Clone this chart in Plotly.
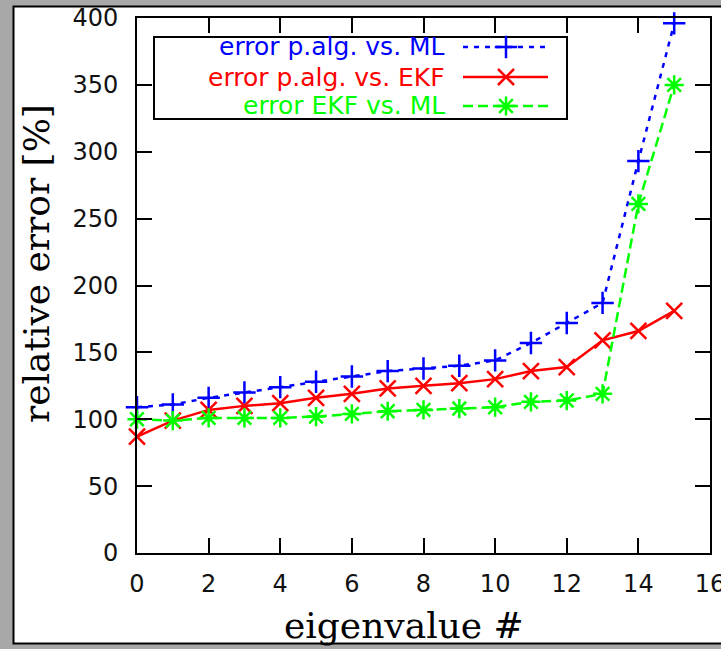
import plotly.graph_objects as go

# ---- data ----
eigen_idx = list(range(16))
err_palg_ml = [109, 111, 116, 120, 124, 128, 132, 136, 138, 140, 144, 157, 172, 187, 293, 396]
err_palg_ekf = [87, 99, 107, 110, 112, 116, 119, 123, 125, 127, 130, 136, 139, 159, 166, 181]
err_ekf_ml = [100, 99, 101, 101, 101, 102, 104, 106, 107, 108, 109, 113, 114, 119, 261, 350]
series_names = ["error p.alg. vs. ML", "error p.alg. vs. EKF", "error EKF vs. ML"]
x_ticks = [0, 2, 4, 6, 8, 10, 12, 14, 16]
y_ticks = [0, 50, 100, 150, 200, 250, 300, 350, 400]

colors = ["#0000ff", "#ff0000", "#00ff00"]
dashes = ["5px,6px", "solid", "10px,5px"]
symbols = ["cross-thin-open", "x-thin-open", "asterisk-open"]
series = [err_palg_ml, err_palg_ekf, err_ekf_ml]

W, H = 721, 649
L, R, T, B = 137, 11, 18, 96
pw = W - L - R
ph = H - T - B

def px2x(px):
    return (px - L) / pw

def px2y(py):
    return (H - B - py) / ph

fig = go.Figure()
for vals, c, d, s, n in zip(series, colors, dashes, symbols, series_names):
    fig.add_trace(go.Scatter(
        x=eigen_idx, y=vals, mode="lines+markers", name=n,
        line=dict(color=c, width=2.5, dash=d),
        marker=dict(symbol=s, size=16, color=c, line=dict(color=c, width=2.5)),
        cliponaxis=False, showlegend=False))

# legend samples (overlay axes in plot-fraction coordinates)
row_y = [47, 77, 106]
for c, d, s, n, ry in zip(colors, dashes, symbols, series_names, row_y):
    fig.add_trace(go.Scatter(
        x=[px2x(463), px2x(548)], y=[px2y(ry), px2y(ry)], mode="lines",
        line=dict(color=c, width=2.5, dash=d), xaxis="x2", yaxis="y2",
        showlegend=False, hoverinfo="skip"))
    fig.add_trace(go.Scatter(
        x=[px2x(506)], y=[px2y(ry)], mode="markers",
        marker=dict(symbol=s, size=16, color=c, line=dict(color=c, width=2.5)),
        xaxis="x2", yaxis="y2", showlegend=False, hoverinfo="skip"))
    fig.add_annotation(text=n, x=px2x(447), y=px2y(ry), xref="paper", yref="paper",
                       xanchor="right", yanchor="middle", showarrow=False,
                       font=dict(family="DejaVu Sans", size=25, color=c))

# panel background and legend box
fig.add_shape(type="rect", xref="paper", yref="paper",
              x0=px2x(13.5), x1=px2x(740), y0=px2y(643.5), y1=px2y(6.5),
              fillcolor="white", line=dict(color="black", width=2), layer="below")
fig.add_shape(type="rect", xref="paper", yref="paper",
              x0=px2x(154), x1=px2x(567), y0=px2y(119), y1=px2y(37),
              fillcolor="white", line=dict(color="black", width=2), layer="below")

# axis titles
fig.add_annotation(text="eigenvalue #", x=px2x(403.5), y=px2y(625), xref="paper", yref="paper",
                   xanchor="center", yanchor="middle", showarrow=False,
                   font=dict(family="DejaVu Serif", size=36, color="black"))
fig.add_annotation(text="relative error [%]", x=px2x(36), y=px2y(264), xref="paper", yref="paper",
                   xanchor="center", yanchor="middle", showarrow=False, textangle=-90,
                   font=dict(family="DejaVu Serif", size=36, color="black"))

axis_common = dict(showline=True, linecolor="black", linewidth=2, mirror="ticks",
                   ticks="inside", ticklen=15, tickwidth=2, tickcolor="black",
                   showgrid=False, zeroline=False, ticklabeloverflow="allow",
                   automargin=False,
                   tickfont=dict(family="DejaVu Sans", size=24, color="#111"))

fig.update_layout(
    width=W, height=H, autosize=False,
    margin=dict(l=L, r=R, t=T, b=B, pad=0, autoexpand=False),
    paper_bgcolor="#a8a8a8", plot_bgcolor="rgba(0,0,0,0)",
    showlegend=False,
    xaxis=dict(range=[0, 16], tickvals=x_ticks, ticklabelstandoff=8, **axis_common),
    yaxis=dict(range=[0, 400], tickvals=y_ticks, ticklabelstandoff=12, **axis_common),
    xaxis2=dict(range=[0, 1], overlaying="x", visible=False, fixedrange=True),
    yaxis2=dict(range=[0, 1], overlaying="y", visible=False, fixedrange=True),
)

fig.write_html("out.html", config={"displayModeBar": False},
               post_script="document.body.style.margin='0';document.body.style.overflow='hidden';")
